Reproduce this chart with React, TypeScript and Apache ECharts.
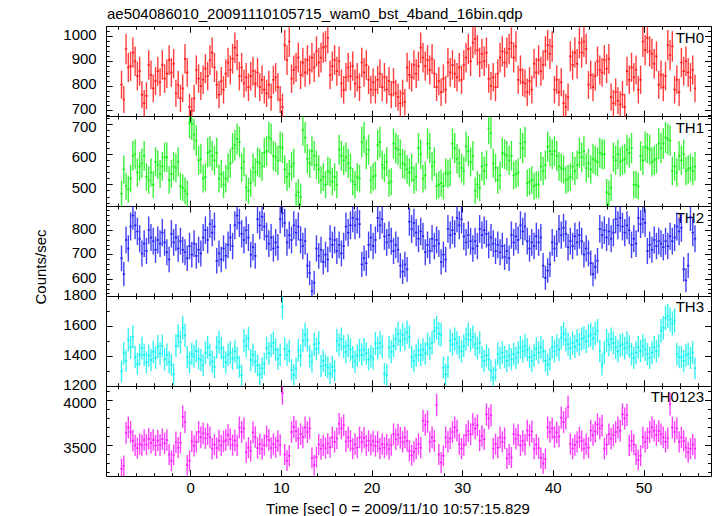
import React, { useEffect, useRef } from "react";
import * as echarts from "echarts";

// ---------- texts ----------
const TITLE = "ae504086010_20091110105715_wam0_bst_4band_16bin.qdp";
const X_TITLE = "Time [sec] 0 = 2009/11/10 10:57:15.829";
const Y_TITLE = "Counts/sec";
const PANEL_NAMES = ["TH0", "TH1", "TH2", "TH3", "TH0123"];

// ---------- time binning ----------
const BIN_START = -7.75; // s, start of first bin
const BIN_WIDTH = 0.25; // s (16 x 1/64 s)
const X_MIN = -9.26;
const X_MAX = 57.39;
const X_MAJOR = [0, 10, 20, 30, 40, 50];
const X_MINOR_STEP = 2;

// ---------- y scales ----------
const Y_MIN = [676, 428, 529, 1200, 3158];
const Y_MAX = [1040, 724, 897, 1800, 4158];
const Y_MAJOR = [
  [700, 800, 900, 1000],
  [500, 600, 700],
  [600, 700, 800],
  [1200, 1400, 1600, 1800],
  [3500, 4000],
];
const Y_MINOR_STEP = [20, 20, 20, 100, 100];

// ---------- count rates (counts/sec), one value per 0.25 s bin ----------
const th0 = [
  805, 745, 950, 875, 880, 935, 900, 840, 860, 765, 730, 760, 885, 845, 790, 820,
  860, 815, 885, 830, 850, 905, 855, 890, 770, 805, 750, 790, 910, 855, 715, 700,
  750, 865, 830, 800, 825, 870, 840, 905, 935, 875, 805, 765, 820, 785, 850, 895,
  865, 910, 955, 925, 840, 875, 810, 835, 795, 840, 860, 810, 855, 795, 825, 785,
  770, 805, 755, 825, 835, 795, 745, 715, 965, 905, 980, 830, 865, 875, 915, 845,
  895, 855, 905, 865, 915, 875, 940, 895, 915, 955, 960, 995, 845, 880, 905, 860,
  900, 810, 785, 835, 875, 840, 880, 810, 835, 795, 895, 855, 885, 825, 785, 815,
  785, 825, 850, 795, 835, 785, 820, 765, 815, 770, 755, 730, 770, 735, 875, 845,
  835, 885, 850, 880, 955, 915, 880, 905, 865, 910, 850, 795, 820, 775, 830, 785,
  895, 855, 885, 850, 835, 875, 825, 885, 915, 950, 900, 975, 990, 945, 895, 930,
  900, 935, 830, 800, 835, 795, 850, 915, 940, 895, 935, 950, 975, 915, 960, 825,
  865, 815, 810, 775, 820, 785, 890, 855, 905, 860, 885, 940, 965, 930, 960, 785,
  825, 775, 815, 730, 715, 755, 920, 885, 935, 890, 975, 935, 980, 950, 805, 845,
  795, 840, 900, 865, 855, 905, 870, 910, 755, 730, 775, 740, 725, 765, 715, 860,
  825, 875, 835, 865, 785, 825, 980, 945, 995, 940, 930, 890, 920, 805, 845, 795,
  840, 965, 925, 960, 785, 825, 775, 895, 860, 900, 855, 835, 865, 790,
];

const th1 = [
  470, 550, 495, 485, 520, 595, 600, 540, 560, 570, 595, 525, 515, 540, 500, 575,
  565, 535, 560, 590, 590, 515, 535, 560, 555, 575, 495, 490, 480, 470, 705, 700,
  665, 645, 580, 585, 520, 525, 605, 610, 595, 580, 605, 520, 535, 500, 520, 555,
  570, 620, 630, 650, 640, 555, 575, 490, 480, 505, 555, 540, 575, 570, 560, 605,
  610, 655, 650, 595, 590, 580, 625, 620, 550, 525, 535, 560, 570, 465, 475, 460,
  680, 655, 585, 570, 610, 595, 565, 550, 515, 525, 500, 545, 540, 510, 525, 500,
  615, 595, 580, 590, 570, 555, 510, 500, 525, 520, 640, 655, 600, 615, 515, 525,
  530, 630, 640, 565, 555, 575, 505, 510, 635, 620, 615, 600, 570, 565, 550, 540,
  555, 515, 525, 620, 600, 520, 530, 635, 620, 560, 575, 495, 500, 505, 495, 540,
  535, 540, 635, 620, 585, 570, 555, 545, 625, 610, 575, 595, 480, 500, 490, 560,
  545, 565, 685, 670, 570, 555, 515, 530, 605, 600, 595, 580, 595, 530, 535, 540,
  635, 620, 640, 505, 510, 515, 495, 500, 500, 560, 545, 565, 625, 610, 600, 610,
  595, 560, 555, 550, 515, 520, 525, 560, 545, 565, 605, 590, 610, 555, 570, 550,
  585, 580, 575, 605, 600, 600, 475, 470, 490, 590, 580, 600, 575, 580, 585, 615,
  605, 620, 500, 500, 495, 595, 580, 625, 620, 615, 575, 580, 585, 635, 620, 635,
  655, 650, 645, 545, 560, 540, 595, 580, 600, 545, 550, 555, 545, 560,
];

const th2 = [
  685, 620, 760, 725, 815, 860, 820, 795, 765, 705, 745, 715, 800, 770, 755, 720,
  760, 745, 790, 750, 710, 680, 785, 750, 770, 725, 755, 720, 710, 685, 735, 700,
  745, 695, 720, 705, 770, 800, 760, 825, 790, 815, 675, 705, 680, 725, 695, 740,
  770, 735, 820, 860, 830, 785, 760, 800, 770, 700, 730, 695, 845, 820, 855, 815,
  775, 745, 770, 725, 750, 730, 845, 870, 830, 750, 780, 760, 820, 790, 815, 760,
  735, 755, 655, 625, 550, 585, 725, 695, 720, 670, 700, 680, 765, 740, 760, 715,
  740, 705, 735, 815, 790, 820, 850, 820, 845, 825, 660, 685, 665, 740, 770, 735,
  760, 850, 820, 845, 775, 750, 780, 755, 715, 740, 720, 655, 630, 660, 640, 835,
  805, 830, 790, 765, 795, 775, 710, 740, 715, 765, 735, 760, 745, 670, 700, 680,
  805, 780, 800, 785, 850, 820, 845, 775, 750, 780, 755, 725, 755, 735, 805, 780,
  800, 785, 740, 770, 745, 715, 740, 710, 735, 690, 715, 685, 780, 750, 775, 760,
  820, 795, 815, 755, 725, 750, 735, 775, 750, 770, 655, 605, 635, 660, 750, 725,
  745, 805, 780, 810, 785, 730, 755, 735, 775, 750, 780, 755, 700, 725, 705, 665,
  620, 650, 675, 805, 780, 800, 770, 795, 765, 790, 845, 820, 850, 815, 790, 820,
  800, 740, 765, 745, 850, 825, 845, 830, 715, 740, 720, 760, 735, 755, 745, 730,
  755, 735, 775, 755, 770, 815, 795, 810, 640, 595, 655, 855, 790, 765,
];

const th3 = [
  1300, 1420, 1370, 1510, 1460, 1530, 1395, 1350, 1410, 1455, 1410, 1360, 1405, 1375, 1430, 1390,
  1465, 1420, 1470, 1380, 1410, 1360, 1345, 1280, 1470, 1535, 1495, 1590, 1540, 1395, 1360, 1415,
  1400, 1435, 1385, 1375, 1340, 1425, 1460, 1410, 1365, 1330, 1460, 1495, 1455, 1395, 1360, 1410,
  1425, 1385, 1435, 1390, 1330, 1275, 1505, 1470, 1520, 1375, 1410, 1365, 1340, 1280, 1320, 1350,
  1455, 1420, 1470, 1490, 1445, 1385, 1410, 1730, 1450, 1410, 1435, 1310, 1275, 1320, 1440, 1405,
  1505, 1545, 1510, 1400, 1365, 1480, 1450, 1490, 1335, 1370, 1340, 1325, 1285, 1330, 1305, 1505,
  1475, 1515, 1465, 1430, 1470, 1445, 1395, 1365, 1405, 1440, 1410, 1445, 1420, 1380, 1400, 1385,
  1485, 1455, 1490, 1465, 1285, 1275, 1460, 1430, 1470, 1515, 1550, 1505, 1545, 1515, 1560, 1530,
  1395, 1370, 1405, 1440, 1410, 1445, 1420, 1480, 1455, 1490, 1570, 1590, 1550, 1545, 1325, 1280,
  1330, 1505, 1480, 1515, 1490, 1460, 1435, 1470, 1515, 1545, 1510, 1530, 1480, 1455, 1490, 1395,
  1370, 1405, 1380, 1305, 1260, 1310, 1415, 1390, 1425, 1395, 1370, 1405, 1380, 1415, 1390, 1425,
  1460, 1435, 1470, 1445, 1395, 1370, 1405, 1450, 1425, 1460, 1435, 1370, 1345, 1380, 1460, 1435,
  1470, 1445, 1525, 1550, 1510, 1480, 1455, 1490, 1465, 1505, 1480, 1515, 1525, 1500, 1535, 1545,
  1520, 1550, 1570, 1435, 1345, 1425, 1505, 1480, 1515, 1490, 1460, 1435, 1470, 1480, 1455, 1490,
  1465, 1415, 1390, 1425, 1460, 1435, 1470, 1445, 1415, 1390, 1425, 1460, 1435, 1470, 1570, 1590,
  1655, 1670, 1645, 1620, 1640, 1415, 1395, 1395, 1370, 1405, 1415, 1390, 1425, 1320,
];

const th0123 = [
  3240, 3275, 3640, 3700, 3650, 3555, 3500, 3470, 3515, 3500, 3560, 3510, 3575, 3530, 3560, 3500,
  3555, 3505, 3570, 3525, 3560, 3400, 3330, 3395, 3535, 3475, 3530, 3820, 3760, 3280, 3330, 3545,
  3495, 3540, 3650, 3590, 3635, 3580, 3625, 3590, 3465, 3510, 3470, 3555, 3500, 3545, 3560, 3615,
  3570, 3505, 3555, 3500, 3700, 3650, 3690, 3425, 3475, 3440, 3645, 3595, 3470, 3515, 3460, 3505,
  3600, 3560, 3470, 3515, 3480, 3550, 3505, 4080, 3400, 3330, 3385, 3650, 3705, 3660, 3580, 3625,
  3590, 3700, 3650, 3690, 3360, 3280, 3370, 3510, 3460, 3500, 3470, 3520, 3480, 3590, 3540, 3580,
  3740, 3690, 3725, 3545, 3590, 3550, 3465, 3515, 3475, 3590, 3540, 3585, 3500, 3550, 3510, 3545,
  3495, 3540, 3465, 3515, 3475, 3510, 3460, 3505, 3625, 3570, 3620, 3585, 3540, 3590, 3550, 3440,
  3390, 3430, 3465, 3515, 3475, 3775, 3730, 3765, 3540, 3590, 3550, 3950, 3400, 3310, 3385, 3590,
  3540, 3580, 3650, 3700, 3665, 3515, 3465, 3505, 3615, 3660, 3625, 3735, 3690, 3725, 3555, 3605,
  3570, 3845, 3800, 3835, 3465, 3515, 3475, 3590, 3540, 3580, 3355, 3400, 3365, 3625, 3575, 3615,
  3500, 3550, 3510, 3665, 3615, 3655, 3465, 3510, 3470, 3360, 3300, 3350, 3700, 3650, 3690, 3595,
  3645, 3600, 3810, 3760, 3800, 3930, 3515, 3465, 3505, 3540, 3590, 3550, 3465, 3515, 3475, 3665,
  3615, 3655, 3735, 3690, 3720, 3465, 3510, 3625, 3575, 3615, 3650, 3700, 3665, 3845, 3800, 3840,
  3500, 3550, 3510, 3400, 3340, 3385, 3590, 3540, 3580, 3650, 3700, 3665, 3615, 3660, 3625, 3590,
  3540, 3580, 3960, 3700, 3650, 3690, 3540, 3590, 3550, 3475, 3425, 3465, 3510, 3465,
];

const SERIES_DATA = [th0, th1, th2, th3, th0123];
const COLORS = ["#ff1a1a", "#1aef1a", "#2020f0", "#10f0f0", "#f820f8"];

// ---------- layout ----------
const W = 717;
const H = 516;
const GRID_LEFT = 106.7;
const GRID_W = 604.3;
const GRID_TOP = 26.7;
const PANEL_H = 89.9;
const FONT = '"Liberation Sans", Arial, Helvetica, sans-serif';
const FS = 15;
// tiny vertical nudges (px) so that neighbouring panels' edge labels do not collide
const LABEL_SHIFT = [-2.5, 2.5, -2, -1.5, 2];

function steps(min: number, max: number, step: number): number[] {
  const out: number[] = [];
  for (let v = Math.ceil(min / step) * step; v <= max + 1e-9; v += step) out.push(Math.round(v * 1000) / 1000);
  return out;
}

function buildOption() {
  const line = { color: "#000", width: 1 };
  const grids: any[] = [];
  const xAxes: any[] = [];
  const yAxes: any[] = [];
  const series: any[] = [];
  const graphics: any[] = [];
  const xMinor = steps(X_MIN, X_MAX, X_MINOR_STEP);
  const n = SERIES_DATA.length;
  const plain = (v: number) => String(v);

  for (let i = 0; i < n; i++) {
    const top = GRID_TOP + i * PANEL_H;
    grids.push({ left: GRID_LEFT, top, width: GRID_W, height: PANEL_H, containLabel: false });
    const last = i === n - 1;
    const xb = { type: "value", gridIndex: i, min: X_MIN, max: X_MAX, splitLine: { show: false }, axisLabel: { show: false } };
    for (const pos of ["bottom", "top"]) {
      xAxes.push({ ...xb, position: pos, axisLine: { show: true, onZero: false, lineStyle: line },
        axisTick: { show: true, inside: true, length: 3, customValues: xMinor, lineStyle: line } });
      xAxes.push({ ...xb, position: pos, axisLine: { show: false, onZero: false },
        axisTick: { show: true, inside: true, length: 6, customValues: X_MAJOR, lineStyle: line },
        axisLabel: last && pos === "bottom"
          ? { show: true, customValues: X_MAJOR, formatter: plain, color: "#000", fontSize: FS, fontFamily: FONT, margin: 5, lineHeight: 12 }
          : { show: false } });
    }
    const yMinor = steps(Y_MIN[i], Y_MAX[i], Y_MINOR_STEP[i]);
    const yb = { type: "value", gridIndex: i, min: Y_MIN[i], max: Y_MAX[i], splitLine: { show: false }, axisLabel: { show: false } };
    const sh = LABEL_SHIFT[i];
    const vAlign = sh < 0 ? "bottom" : sh > 0 ? "top" : "middle";
    const lh = sh === 0 ? 12 : Math.abs(sh) * 2;
    for (const pos of ["left", "right"]) {
      yAxes.push({ ...yb, position: pos, axisLine: { show: true, onZero: false, lineStyle: line },
        axisTick: { show: true, inside: true, length: 3, customValues: yMinor, lineStyle: line } });
      yAxes.push({ ...yb, position: pos, axisLine: { show: false, onZero: false },
        axisTick: { show: true, inside: true, length: 6, customValues: Y_MAJOR[i], lineStyle: line },
        axisLabel: pos === "left"
          ? { show: true, customValues: Y_MAJOR[i], formatter: plain, color: "#000", fontSize: FS, fontFamily: FONT, margin: 10, verticalAlign: vAlign, lineHeight: lh }
          : { show: false } });
    }

    const color = COLORS[i];
    series.push({
      type: "custom",
      xAxisIndex: 4 * i,
      yAxisIndex: 4 * i,
      silent: true,
      animation: false,
      encode: { x: 0, y: 1 },
      data: SERIES_DATA[i].map((v, k) => [BIN_START + (k + 0.5) * BIN_WIDTH, v, Math.sqrt(v / BIN_WIDTH)]),
      renderItem: (params: any, api: any) => {
        const cs = params.coordSys;
        const yTop = cs.y;
        const yBot = cs.y + cs.height;
        const t = api.value(0);
        const v = api.value(1);
        const e = api.value(2);
        const c = api.coord([t, v]);
        const hi = api.coord([t, v + e])[1];
        const lo = api.coord([t, v - e])[1];
        const xl = api.coord([t - BIN_WIDTH / 2, v])[0];
        const xr = api.coord([t + BIN_WIDTH / 2, v])[0];
        const children: any[] = [];
        const y1 = Math.max(hi, yTop);
        const y2 = Math.min(lo, yBot);
        if (y2 > y1) children.push({ type: "line", shape: { x1: c[0], y1, x2: c[0], y2 }, style: { stroke: color, lineWidth: 1.4, opacity: 0.85 } });
        if (c[1] >= yTop && c[1] <= yBot)
          children.push({ type: "line", shape: { x1: xl, y1: c[1], x2: xr, y2: c[1] }, style: { stroke: color, lineWidth: 1.6 } });
        return { type: "group", children };
      },
    });

    graphics.push({
      type: "text", x: 704, y: top + 10.5, silent: true,
      style: { text: PANEL_NAMES[i], align: "right", verticalAlign: "middle", fontSize: FS, fontFamily: FONT, fill: "#000" },
    });
  }

  graphics.push({
    type: "text", x: 107, y: 13, silent: true,
    style: { text: TITLE, align: "left", verticalAlign: "middle", fontSize: FS, fontFamily: FONT, fill: "#000" },
  });
  graphics.push({
    type: "text", x: 398, y: 508, silent: true,
    style: { text: X_TITLE, align: "center", verticalAlign: "middle", fontSize: FS, fontFamily: FONT, fill: "#000" },
  });
  graphics.push({
    type: "text", x: 40, y: 267, rotation: Math.PI / 2, silent: true,
    style: { text: Y_TITLE, align: "center", verticalAlign: "middle", fontSize: FS, fontFamily: FONT, fill: "#000" },
  });

  return {
    animation: false,
    backgroundColor: "#ffffff",
    textStyle: { fontFamily: FONT },
    grid: grids,
    xAxis: xAxes,
    yAxis: yAxes,
    series,
    graphic: graphics,
  };
}

export default function App() {
  const ref = useRef<HTMLDivElement>(null);
  useEffect(() => {
    if (!ref.current) return;
    const chart = echarts.init(ref.current, null, { renderer: "svg", width: W, height: H });
    chart.setOption(buildOption() as any);
    return () => chart.dispose();
  }, []);
  return <div ref={ref} style={{ position: "absolute", left: 0, top: 0, width: W, height: H, background: "#fff" }} />;
}
